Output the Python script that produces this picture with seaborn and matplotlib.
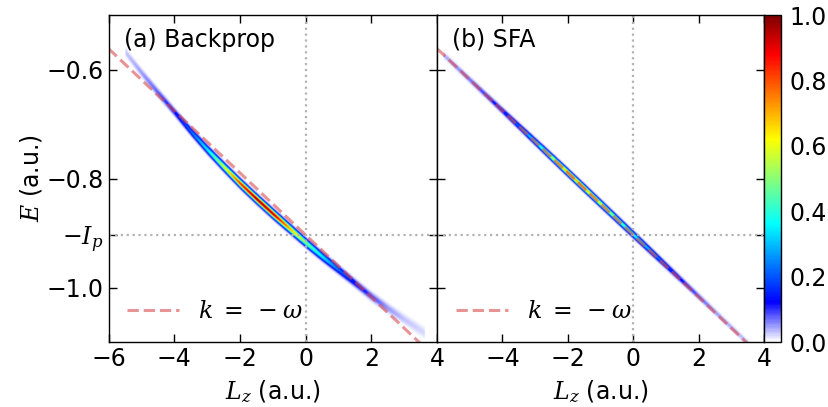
import numpy as np
import matplotlib
matplotlib.use('Agg')
import matplotlib.pyplot as plt
import seaborn as sns
from matplotlib.colors import LinearSegmentedColormap

# physical constants of the dashed guide line
Ip = 0.9036
omega = 0.057

# ridge of the backprop distribution
bp_lz = [-5.5, -5.0, -4.5, -4.0, -3.5, -3.0, -2.5, -2.0, -1.5, -1.0, -0.5, 0.0, 0.5, 1.0, 1.5, 2.0, 2.5, 3.0, 3.6]
bp_off = [0.022, 0.012, 0.004, -0.003, -0.010, -0.015, -0.018, -0.020, -0.020, -0.019, -0.017, -0.015, -0.012, -0.008, -0.004, 0.000, 0.007, 0.015, 0.025]
bp_amp = [0.03, 0.05, 0.08, 0.13, 0.22, 0.36, 0.60, 0.85, 0.98, 0.95, 0.72, 0.50, 0.35, 0.22, 0.14, 0.09, 0.05, 0.03, 0.02]
bp_sig = [0.005, 0.005, 0.005, 0.0045, 0.0045, 0.0045, 0.0045, 0.0045, 0.0045, 0.0045, 0.0045, 0.0045, 0.0045, 0.0045, 0.0045, 0.005, 0.0055, 0.006, 0.007]

# ridge of the SFA distribution (sits on the k = -omega line)
sfa_lz = [-5.8, -5.0, -4.5, -4.0, -3.5, -3.0, -2.5, -2.0, -1.5, -1.0, -0.5, 0.0, 0.5, 1.0, 1.5, 2.0, 2.5, 3.0, 3.5]
sfa_off = [0.0] * len(sfa_lz)
sfa_amp = [0.04, 0.07, 0.10, 0.14, 0.22, 0.35, 0.55, 0.72, 0.70, 0.60, 0.48, 0.38, 0.28, 0.18, 0.12, 0.08, 0.05, 0.04, 0.03]
sfa_sig = [0.0038] * len(sfa_lz)

xlim = (-6, 4)
ylim = (-1.1, -0.5)
yticks = [-0.6, -0.8, -Ip, -1.0]
yticklabels = ['\u22120.6', '\u22120.8', '$-I_p$', '\u22121.0']
cbar_ticks = [0.0, 0.2, 0.4, 0.6, 0.8, 1.0]
FS = 17


def ridge_image(lz, off, amp, sig, lz_grid, e_grid):
    c = -Ip - omega * lz_grid + np.interp(lz_grid, lz, off)
    a = np.interp(lz_grid, lz, amp, left=0, right=0)
    s = np.interp(lz_grid, lz, sig)
    L, E = np.meshgrid(lz_grid, e_grid)
    return a[None, :] * np.exp(-(E - c[None, :]) ** 2 / (2 * s[None, :] ** 2))


sns.set_style('ticks')
plt.rcParams['font.family'] = ['DejaVu Sans']
plt.rcParams['mathtext.fontset'] = 'dejavuserif'
plt.rcParams['font.size'] = FS
for k in ['text.color', 'axes.labelcolor', 'xtick.color', 'ytick.color', 'axes.edgecolor']:
    plt.rcParams[k] = 'black'

cmap = LinearSegmentedColormap.from_list('wjet', [
    (0.0, (1, 1, 1)), (0.12, (0, 0, 1)), (0.36, (0, 1, 1)),
    (0.62, (1, 1, 0)), (0.88, (1, 0, 0)), (1.0, (0.5, 0, 0))])

fig = plt.figure(figsize=(8.29, 4.07), dpi=100)
ax1 = fig.add_axes([0.1309, 0.1597, 0.3963, 0.8034])
ax2 = fig.add_axes([0.5272, 0.1597, 0.3945, 0.8034])
cax = fig.add_axes([0.9217, 0.1597, 0.0205, 0.8034])

lz_grid = np.linspace(-6, 4, 600)
e_grid = np.linspace(-1.1, -0.5, 500)
imgs = [ridge_image(bp_lz, bp_off, bp_amp, bp_sig, lz_grid, e_grid),
        ridge_image(sfa_lz, sfa_off, sfa_amp, sfa_sig, lz_grid, e_grid)]
titles = ['(a) Backprop', '(b) SFA']

line_lz = np.array([-6.0, 4.0])
line_e = -Ip - omega * line_lz

for ax, img, title in zip([ax1, ax2], imgs, titles):
    im = ax.imshow(img, extent=[-6, 4, -1.1, -0.5], origin='lower', aspect='auto',
                   cmap=cmap, vmin=0, vmax=1, interpolation='bilinear')
    ax.axvline(0, color='0.7', ls=':', lw=1.6)
    ax.axhline(-Ip, color='0.7', ls=':', lw=1.6)
    sns.lineplot(x=line_lz, y=line_e, ax=ax, color=(0.85, 0.3, 0.3), alpha=0.6,
                 lw=2.2, linestyle='--', label=r'$k\;=\;-\omega$')
    ax.set_xlim(*xlim)
    ax.set_ylim(*ylim)
    ax.set_yticks(yticks)
    ax.tick_params(direction='in', top=True, right=True, length=6, width=1, labelsize=FS)
    ax.set_xlabel(r'$L_z$ (a.u.)', fontsize=FS, labelpad=5)
    ax.text(0.047, 0.925, title, transform=ax.transAxes, fontsize=FS, va='center')
    ax.legend(loc='lower left', frameon=False, fontsize=FS, handlelength=2.2,
              borderaxespad=0.4)
    for sp in ax.spines.values():
        sp.set_linewidth(1.0)

ax1.set_xticks([-6, -4, -2, 0, 2, 4])
ax1.set_yticklabels(yticklabels)
ax1.set_ylabel(r'$E$ (a.u.)', fontsize=FS, labelpad=2)
ax2.set_xticks([-4, -2, 0, 2, 4])
ax2.set_yticklabels([])

cb = fig.colorbar(im, cax=cax, ticks=cbar_ticks)
cb.ax.tick_params(length=0, labelsize=FS, pad=6)
cb.outline.set_linewidth(1.0)

fig.savefig('out.png', dpi=100)
